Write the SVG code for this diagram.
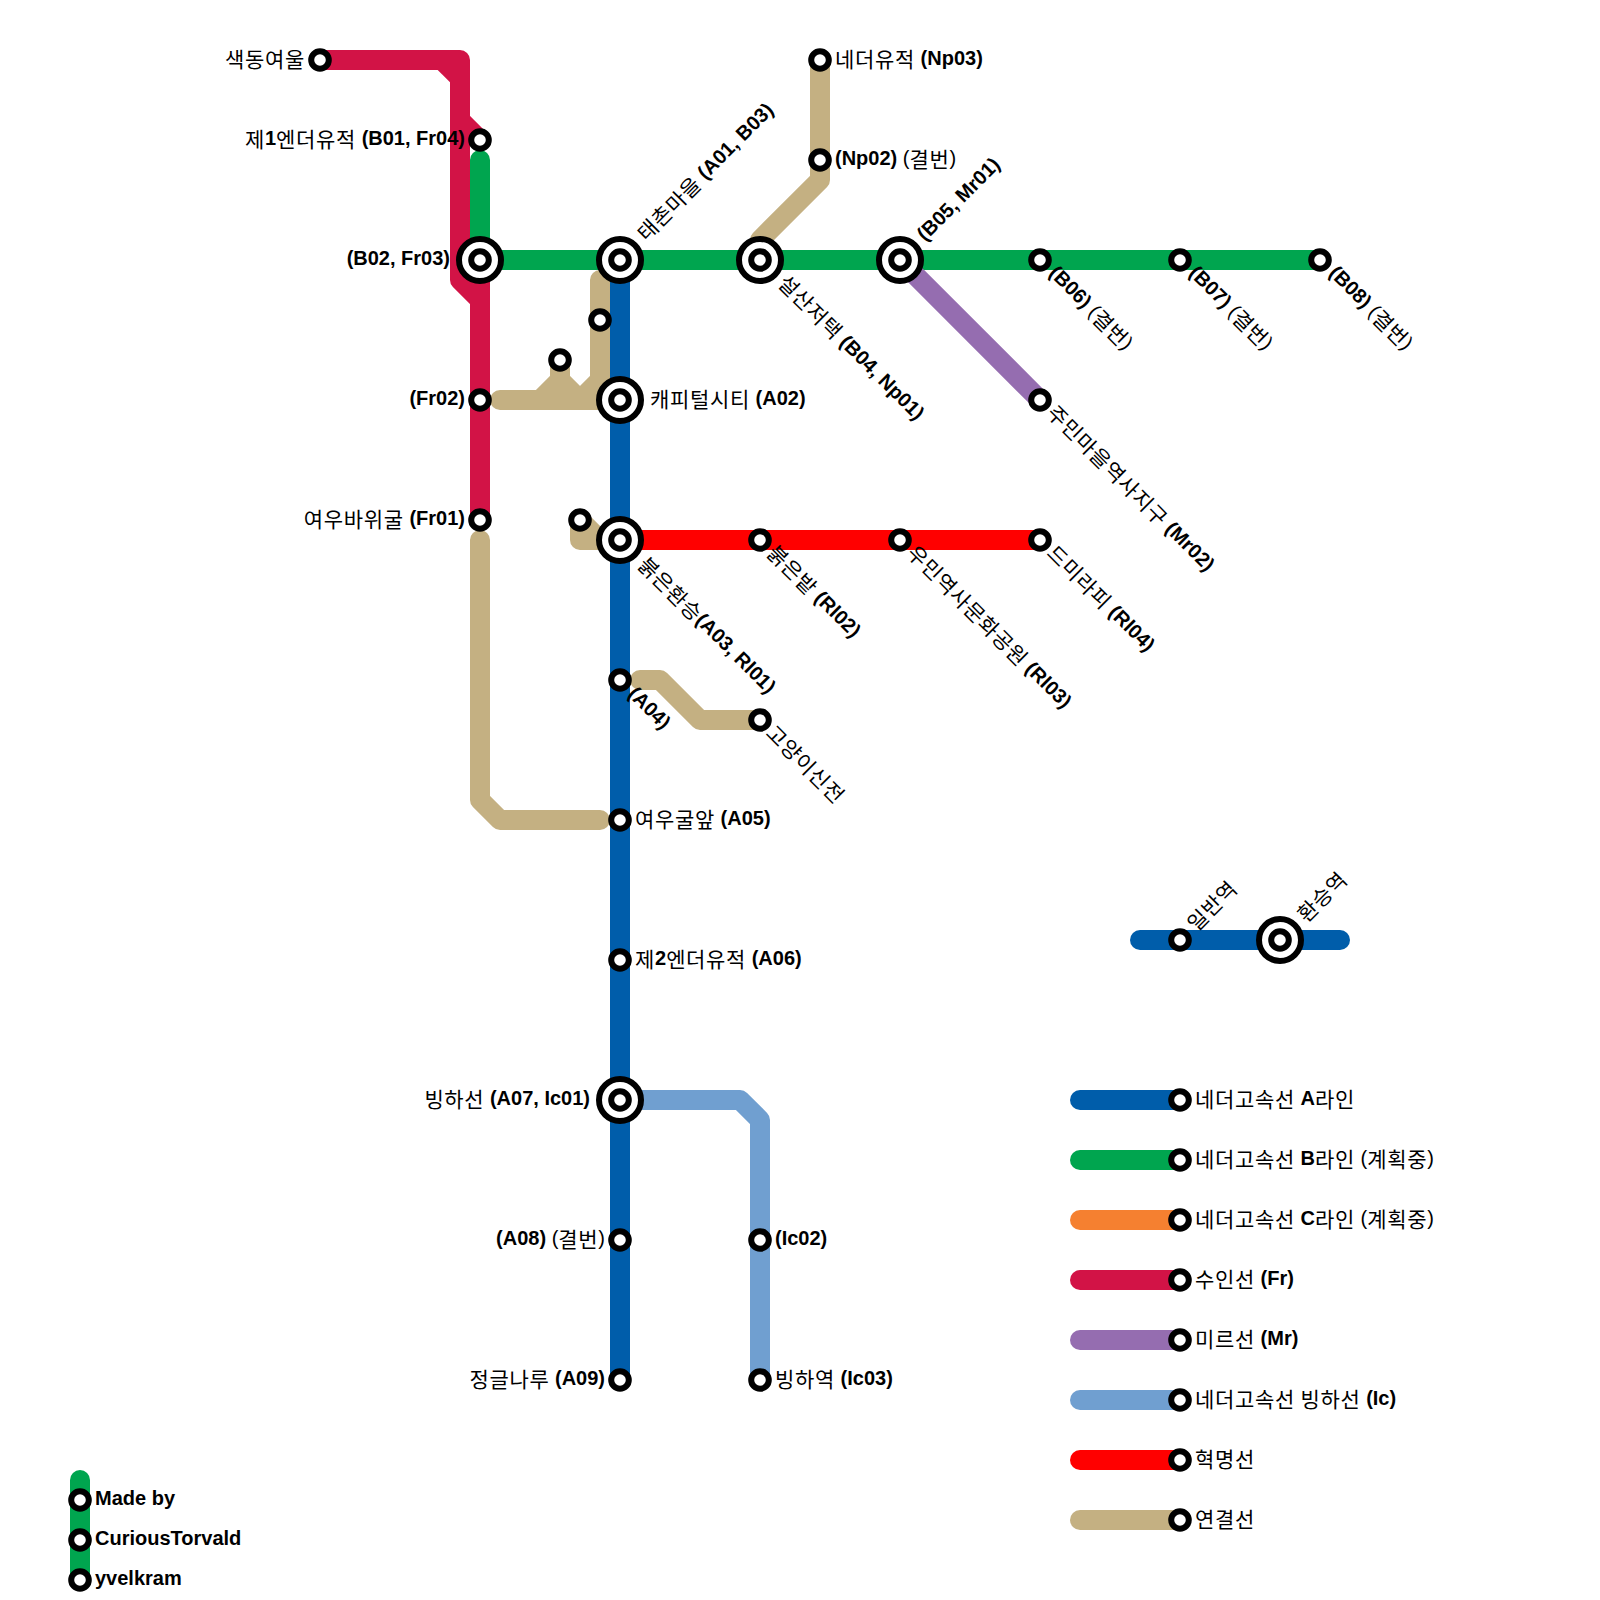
<svg xmlns="http://www.w3.org/2000/svg" width="1600" height="1600" viewBox="0 0 1600 1600">
<style>
text{font-family:"Liberation Sans","Noto Sans CJK KR",sans-serif;font-size:20px;fill:#000}
.e{text-anchor:end}
.b{font-weight:bold}
.k{font-size:21px;letter-spacing:.68px;baseline-shift:-2px}
.l{fill:none;stroke-width:20;stroke-linecap:round;stroke-linejoin:round}
.blue{stroke:#005daa}.green{stroke:#00a54f}.orange{stroke:#f58030}.crimson{stroke:#d21346}.purple{stroke:#956db0}.ice{stroke:#709fd0}.red{stroke:#ff0000}.tan{stroke:#c4b082}
.s{fill:#fff;stroke:#000;stroke-width:6}
</style>
<defs>
<circle id="st" class="s" r="8.8"/>
<g id="ic"><circle class="s" r="21"/><circle class="s" r="8.8"/></g>
</defs>
<rect width="1600" height="1600" fill="#fff"/>
<g id="connectors">
<path class="l crimson" d="M320 60H460V280L480 300V520M460 120L480 140M480 260V300"/>
<polygon fill="#d21346" points="436.7,69 451,83.3 451,69"/>
<path class="l tan" d="M480 540V800L500 820H600"/>
<path class="l tan" d="M500 400H620M600 280V400M560 360V380L540 400M560 380L580 400M600 380L580 400"/>
<path class="l tan" d="M580 520V540H620M580 520L600 540"/>
<path class="l tan" d="M640 680H660L700 720H760"/>
<path class="l tan" d="M820 60V180L760 240V260"/>
<path class="l blue" d="M620 260V1380"/>
<path class="l green" d="M480 160V260H1320"/>
<path class="l purple" d="M900 260L1040 400"/>
<path class="l red" d="M620 540H1040"/>
<path class="l ice" d="M620 1100H740L760 1120V1380"/>
<path class="l blue" d="M1140 940H1340"/>
<path class="l blue" d="M1080 1100H1180"/>
<path class="l green" d="M1080 1160H1180"/>
<path class="l orange" d="M1080 1220H1180"/>
<path class="l crimson" d="M1080 1280H1180"/>
<path class="l purple" d="M1080 1340H1180"/>
<path class="l ice" d="M1080 1400H1180"/>
<path class="l red" d="M1080 1460H1180"/>
<path class="l tan" d="M1080 1520H1180"/>
<path class="l green" d="M80 1480V1580"/>
</g>
<g id="n-fr05"><use href="#st" x="320" y="60"/><text class="e" x="305" y="65"><tspan class="k">색동여울</tspan></text></g>
<g id="n-b01"><use href="#st" x="480" y="140"/><text class="e" x="465" y="145"><tspan class="k">제</tspan><tspan class="b">1</tspan><tspan class="k">엔더유적</tspan> <tspan class="b">(B01, Fr04)</tspan></text></g>
<g id="n-b02"><use href="#ic" x="480" y="260"/><text class="e b" x="450" y="265">(B02, Fr03)</text></g>
<g id="n-fr02"><use href="#st" x="480" y="400"/><text class="e b" x="465" y="405">(Fr02)</text></g>
<g id="n-fr01"><use href="#st" x="480" y="520"/><text class="e" x="465" y="525"><tspan class="k">여우바위굴</tspan> <tspan class="b">(Fr01)</tspan></text></g>
<g id="n-a01"><use href="#ic" x="620" y="260"/><text transform="rotate(-45 645 241)" x="645" y="241"><tspan class="k">태촌마을</tspan> <tspan class="b">(A01, B03)</tspan></text></g>
<g id="n-b04"><use href="#ic" x="760" y="260"/><text transform="rotate(45 778 283)" x="778" y="283"><tspan class="k">설산저택</tspan> <tspan class="b">(B04, Np01)</tspan></text></g>
<g id="n-b05"><use href="#ic" x="900" y="260"/><text class="b" transform="rotate(-45 925 242)" x="925" y="242">(B05, Mr01)</text></g>
<g id="n-b06"><use href="#st" x="1040" y="260"/><text transform="rotate(45 1048 274)" x="1048" y="274"><tspan class="b">(B06)</tspan> (<tspan class="k">결번</tspan>)</text></g>
<g id="n-b07"><use href="#st" x="1180" y="260"/><text transform="rotate(45 1188 274)" x="1188" y="274"><tspan class="b">(B07)</tspan> (<tspan class="k">결번</tspan>)</text></g>
<g id="n-b08"><use href="#st" x="1320" y="260"/><text transform="rotate(45 1328 274)" x="1328" y="274"><tspan class="b">(B08)</tspan> (<tspan class="k">결번</tspan>)</text></g>
<g id="n-mr02"><use href="#st" x="1040" y="400"/><text transform="rotate(45 1047 413)" x="1047" y="413"><tspan class="k">주민마을역사지구</tspan> <tspan class="b">(Mr02)</tspan></text></g>
<g id="n-np03"><use href="#st" x="820" y="60"/><text x="835" y="65"><tspan class="k">네더유적</tspan> <tspan class="b">(Np03)</tspan></text></g>
<g id="n-np02"><use href="#st" x="820" y="160"/><text x="835" y="165"><tspan class="b">(Np02)</tspan> (<tspan class="k">결번</tspan>)</text></g>
<g id="n-c1"><use href="#st" x="600" y="320"/></g>
<g id="n-c2"><use href="#st" x="560" y="360"/></g>
<g id="n-a02"><use href="#ic" x="620" y="400"/><text x="650" y="405"><tspan class="k">캐피털시티</tspan> <tspan class="b">(A02)</tspan></text></g>
<g id="n-c3"><use href="#st" x="580" y="520"/></g>
<g id="n-a03"><use href="#ic" x="620" y="540"/><text transform="rotate(45 638 565)" x="638" y="565"><tspan class="k">붉은환승</tspan><tspan class="b">(A03, Rl01)</tspan></text></g>
<g id="n-rl02"><use href="#st" x="760" y="540"/><text transform="rotate(45 767 553)" x="767" y="553"><tspan class="k">붉은밭</tspan> <tspan class="b">(Rl02)</tspan></text></g>
<g id="n-rl03"><use href="#st" x="900" y="540"/><text transform="rotate(45 907 553)" x="907" y="553"><tspan class="k">우민역사문화공원</tspan> <tspan class="b">(Rl03)</tspan></text></g>
<g id="n-rl04"><use href="#st" x="1040" y="540"/><text transform="rotate(45 1047 553)" x="1047" y="553"><tspan class="k">드미라피</tspan> <tspan class="b">(Rl04)</tspan></text></g>
<g id="n-a04"><use href="#st" x="620" y="680"/><text class="b" transform="rotate(45 627 695)" x="627" y="695">(A04)</text></g>
<g id="n-cat"><use href="#st" x="760" y="720"/><text transform="rotate(45 766 733)" x="766" y="733"><tspan class="k">고양이신전</tspan></text></g>
<g id="n-a05"><use href="#st" x="620" y="820"/><text x="635" y="825"><tspan class="k">여우굴앞</tspan> <tspan class="b">(A05)</tspan></text></g>
<g id="n-a06"><use href="#st" x="620" y="960"/><text x="635" y="965"><tspan class="k">제</tspan><tspan class="b">2</tspan><tspan class="k">엔더유적</tspan> <tspan class="b">(A06)</tspan></text></g>
<g id="n-a07"><use href="#ic" x="620" y="1100"/><text class="e" x="590" y="1105"><tspan class="k">빙하선</tspan> <tspan class="b">(A07, Ic01)</tspan></text></g>
<g id="n-a08"><use href="#st" x="620" y="1240"/><text class="e" x="605" y="1245"><tspan class="b">(A08)</tspan> (<tspan class="k">결번</tspan>)</text></g>
<g id="n-a09"><use href="#st" x="620" y="1380"/><text class="e" x="605" y="1385"><tspan class="k">정글나루</tspan> <tspan class="b">(A09)</tspan></text></g>
<g id="n-ic02"><use href="#st" x="760" y="1240"/><text class="b" x="775" y="1245">(Ic02)</text></g>
<g id="n-ic03"><use href="#st" x="760" y="1380"/><text x="775" y="1385"><tspan class="k">빙하역</tspan> <tspan class="b">(Ic03)</tspan></text></g>
<g id="k-normal"><use href="#st" x="1180" y="940"/><text transform="rotate(-45 1195 931)" x="1195" y="931"><tspan class="k">일반역</tspan></text></g>
<g id="k-transfer"><use href="#ic" x="1280" y="940"/><text transform="rotate(-45 1305 922)" x="1305" y="922"><tspan class="k">환승역</tspan></text></g>
<g id="l-a"><use href="#st" x="1180" y="1100"/><text x="1195" y="1105"><tspan class="k">네더고속선</tspan> <tspan class="b">A</tspan><tspan class="k">라인</tspan></text></g>
<g id="l-b"><use href="#st" x="1180" y="1160"/><text x="1195" y="1165"><tspan class="k">네더고속선</tspan> <tspan class="b">B</tspan><tspan class="k">라인</tspan> (<tspan class="k">계획중</tspan>)</text></g>
<g id="l-c"><use href="#st" x="1180" y="1220"/><text x="1195" y="1225"><tspan class="k">네더고속선</tspan> <tspan class="b">C</tspan><tspan class="k">라인</tspan> (<tspan class="k">계획중</tspan>)</text></g>
<g id="l-fr"><use href="#st" x="1180" y="1280"/><text x="1195" y="1285"><tspan class="k">수인선</tspan> <tspan class="b">(Fr)</tspan></text></g>
<g id="l-mr"><use href="#st" x="1180" y="1340"/><text x="1195" y="1345"><tspan class="k">미르선</tspan> <tspan class="b">(Mr)</tspan></text></g>
<g id="l-ic"><use href="#st" x="1180" y="1400"/><text x="1195" y="1405"><tspan class="k">네더고속선</tspan> <tspan class="k">빙하선</tspan> <tspan class="b">(Ic)</tspan></text></g>
<g id="l-rl"><use href="#st" x="1180" y="1460"/><text x="1195" y="1465"><tspan class="k">혁명선</tspan></text></g>
<g id="l-con"><use href="#st" x="1180" y="1520"/><text x="1195" y="1525"><tspan class="k">연결선</tspan></text></g>
<g id="c-1"><use href="#st" x="80" y="1500"/><text class="b" x="95" y="1505">Made by</text></g>
<g id="c-2"><use href="#st" x="80" y="1540"/><text class="b" x="95" y="1545">CuriousTorvald</text></g>
<g id="c-3"><use href="#st" x="80" y="1580"/><text class="b" x="95" y="1585">yvelkram</text></g>
</svg>
